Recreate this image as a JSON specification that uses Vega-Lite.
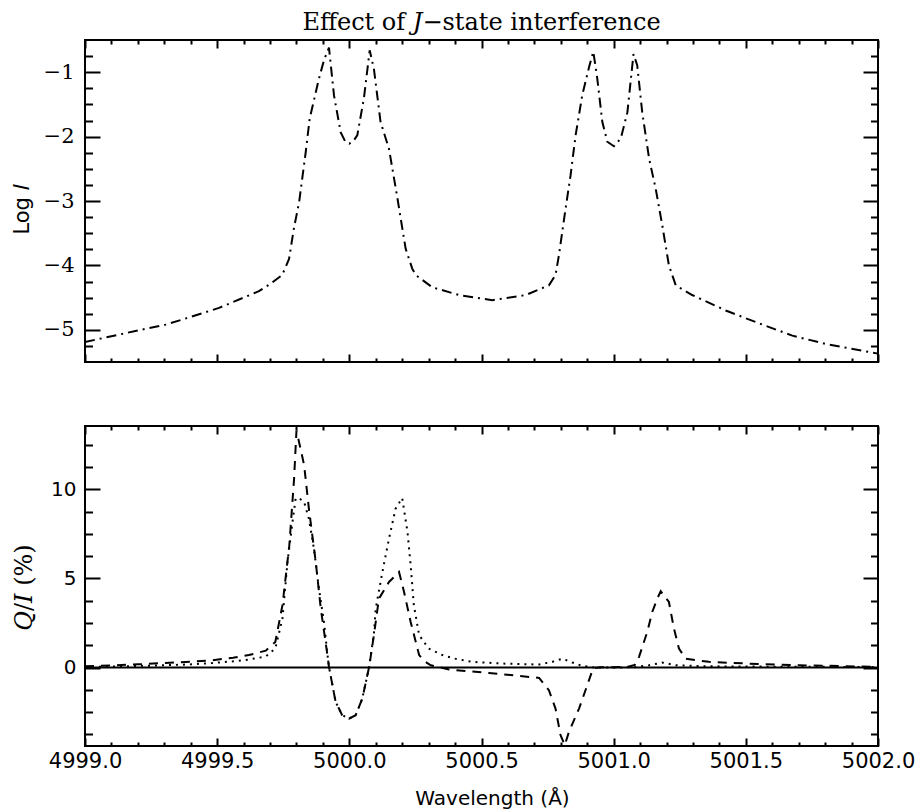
{
  "$schema": "https://vega.github.io/schema/vega-lite/v6.json",
  "padding": {"left": 10, "top": 10, "right": 5, "bottom": 5},
  "background": "white",
  "bounds": "flush",
  "spacing": 64,
  "config": {
    "view": {"stroke": "black", "strokeWidth": 2},
    "axis": {"domain": false, "grid": false, "tickColor": "black", "tickWidth": 2, "labelColor": "black", "titleColor": "black", "titleFontWeight": "normal", "labelOverlap": false, "labelFlush": false}
  },
  "datasets": {
    "logi": [
      {"lam": 4999.0, "logI": -5.19}, {"lam": 4999.1, "logI": -5.1}, {"lam": 4999.2, "logI": -5.01}, {"lam": 4999.305, "logI": -4.92},
      {"lam": 4999.4, "logI": -4.8}, {"lam": 4999.507, "logI": -4.66}, {"lam": 4999.6, "logI": -4.5}, {"lam": 4999.658, "logI": -4.4},
      {"lam": 4999.7, "logI": -4.29}, {"lam": 4999.746, "logI": -4.15}, {"lam": 4999.772, "logI": -3.9}, {"lam": 4999.79, "logI": -3.43},
      {"lam": 4999.81, "logI": -3.02}, {"lam": 4999.835, "logI": -2.24}, {"lam": 4999.85, "logI": -1.72}, {"lam": 4999.885, "logI": -1.1},
      {"lam": 4999.905, "logI": -0.8}, {"lam": 4999.923, "logI": -0.62}, {"lam": 4999.942, "logI": -1.36}, {"lam": 4999.967, "logI": -1.93},
      {"lam": 4999.985, "logI": -2.08}, {"lam": 5000.0, "logI": -2.11}, {"lam": 5000.015, "logI": -2.07}, {"lam": 5000.03, "logI": -1.98},
      {"lam": 5000.055, "logI": -1.41}, {"lam": 5000.077, "logI": -0.66}, {"lam": 5000.093, "logI": -0.95}, {"lam": 5000.118, "logI": -1.77},
      {"lam": 5000.15, "logI": -2.19}, {"lam": 5000.18, "logI": -2.91}, {"lam": 5000.213, "logI": -3.74}, {"lam": 5000.238, "logI": -4.05},
      {"lam": 5000.251, "logI": -4.15}, {"lam": 5000.314, "logI": -4.34}, {"lam": 5000.415, "logI": -4.46}, {"lam": 5000.541, "logI": -4.54},
      {"lam": 5000.667, "logI": -4.46}, {"lam": 5000.755, "logI": -4.31}, {"lam": 5000.78, "logI": -4.15}, {"lam": 5000.793, "logI": -3.84},
      {"lam": 5000.818, "logI": -3.12}, {"lam": 5000.837, "logI": -2.6}, {"lam": 5000.856, "logI": -1.98}, {"lam": 5000.881, "logI": -1.36},
      {"lam": 5000.907, "logI": -0.92}, {"lam": 5000.923, "logI": -0.68}, {"lam": 5000.938, "logI": -1.1}, {"lam": 5000.957, "logI": -1.77},
      {"lam": 5000.976, "logI": -2.08}, {"lam": 5001.001, "logI": -2.15}, {"lam": 5001.027, "logI": -2.03}, {"lam": 5001.052, "logI": -1.62},
      {"lam": 5001.075, "logI": -0.72}, {"lam": 5001.089, "logI": -0.89}, {"lam": 5001.108, "logI": -1.62}, {"lam": 5001.134, "logI": -2.34},
      {"lam": 5001.159, "logI": -2.81}, {"lam": 5001.184, "logI": -3.38}, {"lam": 5001.209, "logI": -4.0}, {"lam": 5001.235, "logI": -4.31},
      {"lam": 5001.297, "logI": -4.46}, {"lam": 5001.424, "logI": -4.7}, {"lam": 5001.55, "logI": -4.9}, {"lam": 5001.676, "logI": -5.09},
      {"lam": 5001.802, "logI": -5.22}, {"lam": 5002.0, "logI": -5.37}
    ],
    "qi": [
      {"lam": 4999.0, "val": 0.08, "series": "dashed"}, {"lam": 4999.1, "val": 0.12, "series": "dashed"}, {"lam": 4999.2, "val": 0.18, "series": "dashed"},
      {"lam": 4999.305, "val": 0.26, "series": "dashed"}, {"lam": 4999.4, "val": 0.33, "series": "dashed"}, {"lam": 4999.48, "val": 0.41, "series": "dashed"},
      {"lam": 4999.56, "val": 0.55, "series": "dashed"}, {"lam": 4999.62, "val": 0.7, "series": "dashed"}, {"lam": 4999.684, "val": 0.95, "series": "dashed"},
      {"lam": 4999.72, "val": 1.44, "series": "dashed"}, {"lam": 4999.747, "val": 3.5, "series": "dashed"}, {"lam": 4999.773, "val": 6.86, "series": "dashed"},
      {"lam": 4999.791, "val": 10.6, "series": "dashed"}, {"lam": 4999.8, "val": 13.3, "series": "dashed"}, {"lam": 4999.815, "val": 12.3, "series": "dashed"},
      {"lam": 4999.829, "val": 11.35, "series": "dashed"}, {"lam": 4999.847, "val": 8.91, "series": "dashed"}, {"lam": 4999.873, "val": 5.92, "series": "dashed"},
      {"lam": 4999.892, "val": 3.31, "series": "dashed"}, {"lam": 4999.917, "val": 0.7, "series": "dashed"}, {"lam": 4999.923, "val": 0.04, "series": "dashed"},
      {"lam": 4999.948, "val": -1.92, "series": "dashed"}, {"lam": 4999.973, "val": -2.67, "series": "dashed"}, {"lam": 4999.999, "val": -2.86, "series": "dashed"},
      {"lam": 5000.024, "val": -2.67, "series": "dashed"}, {"lam": 5000.049, "val": -1.74, "series": "dashed"}, {"lam": 5000.075, "val": 0.04, "series": "dashed"},
      {"lam": 5000.093, "val": 1.82, "series": "dashed"}, {"lam": 5000.112, "val": 3.87, "series": "dashed"}, {"lam": 5000.15, "val": 4.8, "series": "dashed"},
      {"lam": 5000.188, "val": 5.36, "series": "dashed"}, {"lam": 5000.207, "val": 4.24, "series": "dashed"}, {"lam": 5000.232, "val": 2.56, "series": "dashed"},
      {"lam": 5000.264, "val": 0.7, "series": "dashed"}, {"lam": 5000.285, "val": 0.35, "series": "dashed"}, {"lam": 5000.308, "val": 0.13, "series": "dashed"},
      {"lam": 5000.377, "val": -0.11, "series": "dashed"}, {"lam": 5000.528, "val": -0.3, "series": "dashed"}, {"lam": 5000.718, "val": -0.58, "series": "dashed"},
      {"lam": 5000.755, "val": -1.27, "series": "dashed"}, {"lam": 5000.78, "val": -2.3, "series": "dashed"}, {"lam": 5000.799, "val": -3.79, "series": "dashed"},
      {"lam": 5000.815, "val": -4.35, "series": "dashed"}, {"lam": 5000.831, "val": -3.6, "series": "dashed"}, {"lam": 5000.869, "val": -2.3, "series": "dashed"},
      {"lam": 5000.9, "val": -0.99, "series": "dashed"}, {"lam": 5000.922, "val": -0.05, "series": "dashed"}, {"lam": 5000.95, "val": 0.02, "series": "dashed"},
      {"lam": 5001.0, "val": 0.02, "series": "dashed"}, {"lam": 5001.05, "val": 0.03, "series": "dashed"}, {"lam": 5001.08, "val": 0.15, "series": "dashed"},
      {"lam": 5001.096, "val": 0.6, "series": "dashed"}, {"lam": 5001.127, "val": 2.0, "series": "dashed"}, {"lam": 5001.146, "val": 3.12, "series": "dashed"},
      {"lam": 5001.165, "val": 3.87, "series": "dashed"}, {"lam": 5001.178, "val": 4.28, "series": "dashed"}, {"lam": 5001.209, "val": 3.68, "series": "dashed"},
      {"lam": 5001.228, "val": 2.19, "series": "dashed"}, {"lam": 5001.247, "val": 1.07, "series": "dashed"}, {"lam": 5001.272, "val": 0.5, "series": "dashed"},
      {"lam": 5001.36, "val": 0.32, "series": "dashed"}, {"lam": 5001.512, "val": 0.22, "series": "dashed"}, {"lam": 5001.7, "val": 0.13, "series": "dashed"},
      {"lam": 5002.0, "val": 0.04, "series": "dashed"},
      {"lam": 4999.0, "val": 0.04, "series": "dotted"}, {"lam": 4999.1, "val": 0.06, "series": "dotted"}, {"lam": 4999.2, "val": 0.09, "series": "dotted"},
      {"lam": 4999.305, "val": 0.13, "series": "dotted"}, {"lam": 4999.4, "val": 0.18, "series": "dotted"}, {"lam": 4999.48, "val": 0.25, "series": "dotted"},
      {"lam": 4999.56, "val": 0.35, "series": "dotted"}, {"lam": 4999.62, "val": 0.45, "series": "dotted"}, {"lam": 4999.684, "val": 0.62, "series": "dotted"},
      {"lam": 4999.72, "val": 1.07, "series": "dotted"}, {"lam": 4999.747, "val": 2.75, "series": "dotted"}, {"lam": 4999.766, "val": 5.92, "series": "dotted"},
      {"lam": 4999.785, "val": 8.17, "series": "dotted"}, {"lam": 4999.797, "val": 9.5, "series": "dotted"}, {"lam": 4999.81, "val": 9.5, "series": "dotted"},
      {"lam": 4999.829, "val": 9.29, "series": "dotted"}, {"lam": 4999.847, "val": 8.35, "series": "dotted"}, {"lam": 4999.866, "val": 6.67, "series": "dotted"},
      {"lam": 4999.885, "val": 4.43, "series": "dotted"}, {"lam": 4999.904, "val": 2.56, "series": "dotted"}, {"lam": 4999.917, "val": 0.75, "series": "dotted"},
      {"lam": 4999.923, "val": 0.04, "series": "dotted"}, {"lam": 4999.948, "val": -1.92, "series": "dotted"}, {"lam": 4999.973, "val": -2.67, "series": "dotted"},
      {"lam": 4999.999, "val": -2.86, "series": "dotted"}, {"lam": 5000.024, "val": -2.67, "series": "dotted"}, {"lam": 5000.049, "val": -1.74, "series": "dotted"},
      {"lam": 5000.075, "val": 0.04, "series": "dotted"}, {"lam": 5000.093, "val": 1.9, "series": "dotted"}, {"lam": 5000.1, "val": 3.31, "series": "dotted"},
      {"lam": 5000.125, "val": 5.36, "series": "dotted"}, {"lam": 5000.15, "val": 7.23, "series": "dotted"}, {"lam": 5000.175, "val": 8.91, "series": "dotted"},
      {"lam": 5000.2, "val": 9.51, "series": "dotted"}, {"lam": 5000.22, "val": 7.61, "series": "dotted"}, {"lam": 5000.232, "val": 5.74, "series": "dotted"},
      {"lam": 5000.244, "val": 3.5, "series": "dotted"}, {"lam": 5000.264, "val": 1.82, "series": "dotted"}, {"lam": 5000.3, "val": 1.07, "series": "dotted"},
      {"lam": 5000.352, "val": 0.7, "series": "dotted"}, {"lam": 5000.4, "val": 0.5, "series": "dotted"}, {"lam": 5000.465, "val": 0.32, "series": "dotted"},
      {"lam": 5000.59, "val": 0.22, "series": "dotted"}, {"lam": 5000.718, "val": 0.17, "series": "dotted"}, {"lam": 5000.768, "val": 0.32, "series": "dotted"},
      {"lam": 5000.806, "val": 0.5, "series": "dotted"}, {"lam": 5000.844, "val": 0.28, "series": "dotted"}, {"lam": 5000.88, "val": 0.1, "series": "dotted"},
      {"lam": 5000.93, "val": 0.0, "series": "dotted"}, {"lam": 5001.0, "val": 0.0, "series": "dotted"}, {"lam": 5001.08, "val": 0.02, "series": "dotted"},
      {"lam": 5001.134, "val": 0.13, "series": "dotted"}, {"lam": 5001.184, "val": 0.28, "series": "dotted"}, {"lam": 5001.235, "val": 0.13, "series": "dotted"},
      {"lam": 5001.35, "val": 0.07, "series": "dotted"}, {"lam": 5001.6, "val": 0.05, "series": "dotted"}, {"lam": 5002.0, "val": 0.03, "series": "dotted"}
    ]
  },
  "vconcat": [
    {
      "width": 793,
      "height": 322,
      "title": {"text": "Effect of 𝐽−state interference", "font": "DejaVu Serif", "fontSize": 24, "fontWeight": "normal", "color": "black", "anchor": "middle", "frame": "group", "baseline": "alphabetic", "offset": -15},
      "data": {"name": "logi"},
      "resolve": {"axis": {"x": "independent", "y": "independent"}},
      "layer": [
        {
          "mark": {"type": "line", "color": "black", "strokeWidth": 2, "strokeDash": [10, 5, 2, 5]},
          "encoding": {
            "x": {"field": "lam", "type": "quantitative", "scale": {"domain": [4999, 5002], "nice": false, "zero": false},
              "axis": {"orient": "bottom", "title": null, "labels": false,
                "values": [4999, 4999.1, 4999.2, 4999.3, 4999.4, 4999.5, 4999.6, 4999.7, 4999.8, 4999.9, 5000, 5000.1, 5000.2, 5000.3, 5000.4, 5000.5, 5000.6, 5000.7, 5000.8, 5000.9, 5001, 5001.1, 5001.2, 5001.3, 5001.4, 5001.5, 5001.6, 5001.7, 5001.8, 5001.9, 5002],
                "tickSize": {"condition": {"test": "abs(datum.value*2 - round(datum.value*2)) < 0.001", "value": -8}, "value": -4}}},
            "y": {"field": "logI", "type": "quantitative", "scale": {"domain": [-5.5, -0.5], "nice": false, "zero": false},
              "axis": {"orient": "left",
                "values": [-5.25, -5, -4.75, -4.5, -4.25, -4, -3.75, -3.5, -3.25, -3, -2.75, -2.5, -2.25, -2, -1.75, -1.5, -1.25, -1, -0.75],
                "tickSize": {"condition": {"test": "abs(datum.value - round(datum.value)) < 0.001", "value": -15}, "value": -7.5},
                "labelExpr": "abs(datum.value - round(datum.value)) < 0.001 ? format(datum.value, 'd') : ''",
                "labelFont": "DejaVu Serif", "labelFontSize": 21, "labelPadding": 26,
                "title": "Log 𝐼", "titleFont": "DejaVu Sans", "titleFontSize": 21, "titleX": -53, "titleY": 169, "titleBaseline": "bottom", "titleAngle": -90}}
          }
        },
        {
          "mark": {"type": "line", "opacity": 0},
          "encoding": {
            "x": {"field": "lam", "type": "quantitative",
              "axis": {"orient": "top", "title": null, "labels": false,
                "values": [4999, 4999.1, 4999.2, 4999.3, 4999.4, 4999.5, 4999.6, 4999.7, 4999.8, 4999.9, 5000, 5000.1, 5000.2, 5000.3, 5000.4, 5000.5, 5000.6, 5000.7, 5000.8, 5000.9, 5001, 5001.1, 5001.2, 5001.3, 5001.4, 5001.5, 5001.6, 5001.7, 5001.8, 5001.9, 5002],
                "tickSize": {"condition": {"test": "abs(datum.value*2 - round(datum.value*2)) < 0.001", "value": -8}, "value": -4}}},
            "y": {"field": "logI", "type": "quantitative",
              "axis": {"orient": "right", "title": null, "labels": false,
                "values": [-5.25, -5, -4.75, -4.5, -4.25, -4, -3.75, -3.5, -3.25, -3, -2.75, -2.5, -2.25, -2, -1.75, -1.5, -1.25, -1, -0.75],
                "tickSize": {"condition": {"test": "abs(datum.value - round(datum.value)) < 0.001", "value": -15}, "value": -7.5}}}
          }
        }
      ]
    },
    {
      "width": 793,
      "height": 320,
      "data": {"name": "qi"},
      "resolve": {"axis": {"x": "independent", "y": "independent"}},
      "layer": [
        {
          "data": {"values": [{}]},
          "mark": {"type": "rule", "color": "black", "strokeWidth": 2},
          "encoding": {"y": {"datum": 0, "axis": null}}
        },
        {
          "mark": {"type": "line", "color": "black", "strokeWidth": 2},
          "encoding": {
            "x": {"field": "lam", "type": "quantitative", "scale": {"domain": [4999, 5002], "nice": false, "zero": false},
              "axis": {"orient": "bottom",
                "values": [4999, 4999.1, 4999.2, 4999.3, 4999.4, 4999.5, 4999.6, 4999.7, 4999.8, 4999.9, 5000, 5000.1, 5000.2, 5000.3, 5000.4, 5000.5, 5000.6, 5000.7, 5000.8, 5000.9, 5001, 5001.1, 5001.2, 5001.3, 5001.4, 5001.5, 5001.6, 5001.7, 5001.8, 5001.9, 5002],
                "tickSize": {"condition": {"test": "abs(datum.value*2 - round(datum.value*2)) < 0.001", "value": -8}, "value": -4},
                "labelExpr": "abs(datum.value*2 - round(datum.value*2)) < 0.001 ? format(datum.value, '.1f') : ''",
                "labelFont": "DejaVu Sans", "labelFontSize": 21, "labelPadding": 12,
                "title": "Wavelength (Å)", "titleFont": "DejaVu Sans", "titleFontSize": 20, "titleX": 407, "titleY": 58, "titleBaseline": "alphabetic"}},
            "y": {"field": "val", "type": "quantitative", "scale": {"domain": [-4.4, 13.55], "nice": false, "zero": false},
              "axis": {"orient": "left",
                "values": [-3.75, -2.5, -1.25, 0, 1.25, 2.5, 3.75, 5, 6.25, 7.5, 8.75, 10, 11.25, 12.5],
                "tickSize": {"condition": {"test": "abs(datum.value/5 - round(datum.value/5)) < 0.001", "value": -15}, "value": -7.5},
                "labelExpr": "abs(datum.value/5 - round(datum.value/5)) < 0.001 ? format(datum.value, 'd') : ''",
                "labelFont": "DejaVu Sans", "labelFontSize": 20, "labelPadding": 24,
                "title": "𝑄/𝐼 (%)", "titleFont": "DejaVu Serif", "titleFontSize": 24, "titleX": -49, "titleY": 161, "titleBaseline": "bottom", "titleAngle": -90}},
            "strokeDash": {"field": "series", "type": "nominal", "scale": {"domain": ["dashed", "dotted"], "range": [[9, 7], [2, 5]]}, "legend": null}
          }
        },
        {
          "mark": {"type": "line", "opacity": 0},
          "encoding": {
            "x": {"field": "lam", "type": "quantitative",
              "axis": {"orient": "top", "title": null, "labels": false,
                "values": [4999, 4999.1, 4999.2, 4999.3, 4999.4, 4999.5, 4999.6, 4999.7, 4999.8, 4999.9, 5000, 5000.1, 5000.2, 5000.3, 5000.4, 5000.5, 5000.6, 5000.7, 5000.8, 5000.9, 5001, 5001.1, 5001.2, 5001.3, 5001.4, 5001.5, 5001.6, 5001.7, 5001.8, 5001.9, 5002],
                "tickSize": {"condition": {"test": "abs(datum.value*2 - round(datum.value*2)) < 0.001", "value": -8}, "value": -4}}},
            "y": {"field": "val", "type": "quantitative",
              "axis": {"orient": "right", "title": null, "labels": false,
                "values": [-3.75, -2.5, -1.25, 0, 1.25, 2.5, 3.75, 5, 6.25, 7.5, 8.75, 10, 11.25, 12.5],
                "tickSize": {"condition": {"test": "abs(datum.value/5 - round(datum.value/5)) < 0.001", "value": -15}, "value": -7.5}}},
            "detail": {"field": "series", "type": "nominal"}
          }
        }
      ]
    }
  ]
}
